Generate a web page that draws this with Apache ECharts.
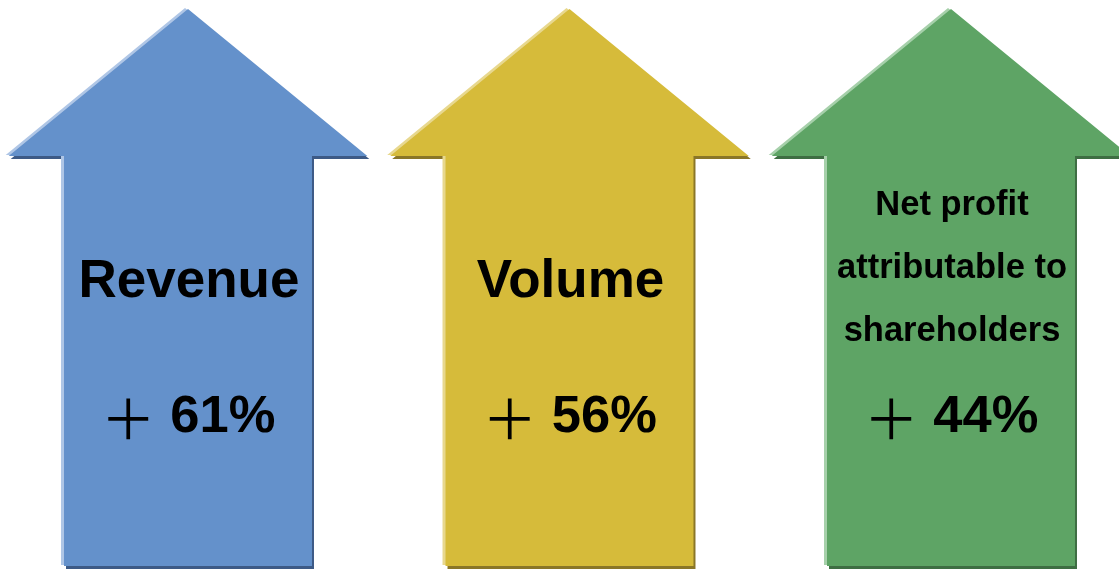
<!DOCTYPE html>
<html>
<head>
<meta charset="utf-8">
<style>
  html, body { margin: 0; padding: 0; background: #ffffff; }
  #chart { width: 1119px; height: 569px; }
</style>
<script src="https://cdn.jsdelivr.net/npm/echarts@6/dist/echarts.min.js"></script>
</head>
<body>
<div id="chart"></div>
<script>
// ---- data ----
const categories = ['Revenue', 'Volume', 'Net profit\nattributable to\nshareholders'];
const growth = [61, 56, 44];

// ---- styles ----
const fillColors  = ['#6491CB', '#D6BB3A', '#5EA465'];
const lightColors = ['#AFC6E6', '#E8D88E', '#A6D0AA'];
const darkColors  = ['#3D5A86', '#8A7628', '#3E6E43'];

const chart = echarts.init(document.getElementById('chart'), null, { renderer: 'canvas' });

function arrowPoints(cx, ty, by, headHalf, shaftHalf, headH, dx, dy) {
  return [
    [cx + dx, ty + dy],
    [cx + headHalf + dx, ty + headH + dy],
    [cx + shaftHalf + dx, ty + headH + dy],
    [cx + shaftHalf + dx, by + dy],
    [cx - shaftHalf + dx, by + dy],
    [cx - shaftHalf + dx, ty + headH + dy],
    [cx - headHalf + dx, ty + headH + dy]
  ];
}

function renderItem(params, api) {
  const i = api.value(0);
  const v = api.value(1);
  const top = api.coord([i, 100]);
  const bottom = api.coord([i, 0]);
  const bw = api.size([1, 0])[0];
  const cx = top[0];
  const ty = top[1];
  const by = bottom[1] - 3;
  const headHalf = bw * 0.47;
  const shaftHalf = bw * 0.325;
  const headH = 147;
  const name = categories[i];
  const multi = name.indexOf('\n') >= 0;

  return {
    type: 'group',
    children: [
      { type: 'polygon', shape: { points: arrowPoints(cx, ty, by, headHalf, shaftHalf, headH, 2, 3) },
        style: { fill: darkColors[i] } },
      { type: 'polygon', shape: { points: arrowPoints(cx, ty, by, headHalf, shaftHalf, headH, -3, -1) },
        style: { fill: lightColors[i] } },
      { type: 'polygon', shape: { points: arrowPoints(cx, ty, by, headHalf, shaftHalf, headH, 0, 0) },
        style: { fill: fillColors[i] } },
      { type: 'text', x: cx + 1, y: ty + (multi ? 259 : 273),
        style: {
          text: name,
          fill: '#000000',
          font: multi ? 'bold 34.5px "Liberation Sans", Arial, sans-serif' : 'bold 53px "Liberation Sans", Arial, sans-serif',
          lineHeight: multi ? 63 : 60,
          align: 'center',
          verticalAlign: 'middle'
        } },
      { type: 'text', x: cx, y: ty + 409,
        style: {
          text: '{p|＋}{v| ' + v + '%}',
          align: 'center',
          verticalAlign: 'middle',
          rich: {
            p: { fontFamily: '"Noto Sans CJK SC", sans-serif', fontWeight: 'normal', fontSize: 55, fill: '#000000' },
            v: { fontFamily: '"Liberation Sans", Arial, sans-serif', fontWeight: 'bold', fontSize: 52.5, fill: '#000000' }
          }
        } }
    ]
  };
}

chart.setOption({
  animation: false,
  backgroundColor: '#ffffff',
  grid: { left: 0, right: 0, top: 9, bottom: 0 },
  xAxis: { type: 'value', min: -188 / 381.5, max: (1119 - 188) / 381.5, show: false },
  yAxis: { type: 'value', min: 0, max: 100, show: false },
  series: [{
    type: 'custom',
    renderItem: renderItem,
    clip: false,
    data: growth.map((g, i) => [i, g])
  }]
});
</script>
</body>
</html>
